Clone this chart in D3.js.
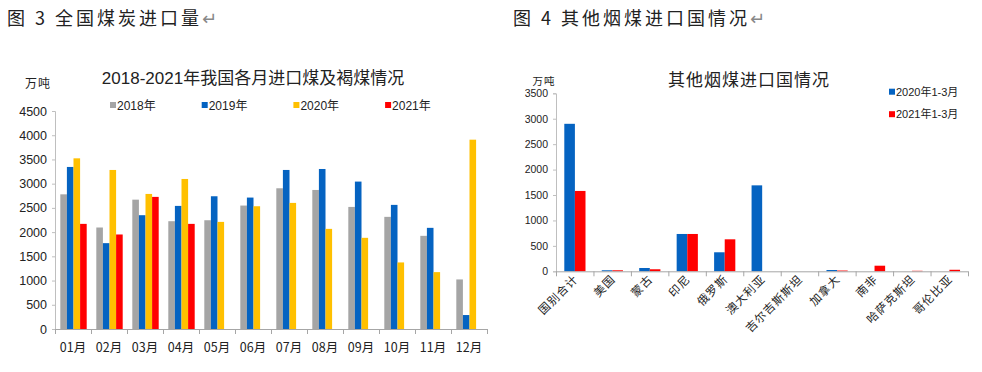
<!DOCTYPE html>
<html>
<head>
<meta charset="utf-8">
<script src="https://cdn.jsdelivr.net/npm/d3@7/dist/d3.min.js"></script>
<style>
  body { margin: 0; background: #fff; }
  svg { display: block; }
  text { font-family: "Liberation Sans", "Noto Sans CJK SC", sans-serif; fill: #222; }
  .cjk { font-family: "Noto Sans CJK SC", sans-serif; }
</style>
</head>
<body>
<div id="chart"></div>
<script>
// ---- data: left chart (monthly coal + lignite imports, 万吨)
var months = ['01月', '02月', '03月', '04月', '05月', '06月', '07月', '08月', '09月', '10月', '11月', '12月'];
var years = ['2018年', '2019年', '2020年', '2021年'];
var imp2018 = [2780, 2095, 2670, 2225, 2245, 2548, 2905, 2870, 2520, 2315, 1923, 1023];
var imp2019 = [3345, 1772, 2349, 2541, 2740, 2713, 3283, 3303, 3043, 2562, 2088, 288];
var imp2020 = [3523, 3283, 2788, 3097, 2211, 2534, 2603, 2067, 1882, 1374, 1174, 3908];
var imp2021 = [2170, 1951, 2727, 2170, null, null, null, null, null, null, null, null];
var leftTicks = [0, 500, 1000, 1500, 2000, 2500, 3000, 3500, 4000, 4500];

// ---- data: right chart (other bituminous coal by origin, 万吨)
var countries = ['国别合计', '美国', '蒙古', '印尼', '俄罗斯', '澳大利亚', '吉尔吉斯斯坦', '加拿大', '南非', '哈萨克斯坦', '哥伦比亚'];
var periods = ['2020年1-3月', '2021年1-3月'];
var q2020 = [2900, 20, 65, 734, 374, 1690, 0, 25, 0, 0, 0];
var q2021 = [1580, 20, 40, 734, 629, 0, 0, 15, 110, 10, 30];
var rightTicks = [0, 500, 1000, 1500, 2000, 2500, 3000, 3500];

var colors = {
  '2018年': '#A5A5A5', '2019年': '#0563C1', '2020年': '#FFC000', '2021年': '#FF0000',
  '2020年1-3月': '#0563C1', '2021年1-3月': '#FF0000'
};

var svg = d3.select('#chart').append('svg')
  .attr('width', 982).attr('height', 372);

// figure captions
svg.append('text').attr('class', 'cjk')
  .attr('x', 7).attr('y', 25)
  .style('font-size', '18px').style('letter-spacing', '3px')
  .text('图 3 全国煤炭进口量')
  .append('tspan').style('fill', '#888').style('font-family', 'DejaVu Sans').style('letter-spacing', '0').text('↵');

svg.append('text').attr('class', 'cjk')
  .attr('x', 513).attr('y', 25)
  .style('font-size', '18px').style('letter-spacing', '3px')
  .text('图 4 其他烟煤进口国情况')
  .append('tspan').style('fill', '#888').style('font-family', 'DejaVu Sans').style('letter-spacing', '0').text('↵');

function drawChart(opt) {
  var g = svg.append('g');

  var x = d3.scaleBand().domain(opt.cats).range([opt.x0, opt.x1]).padding(0);
  var xs = d3.scaleBand().domain(opt.keys).range(opt.inner).padding(0);
  var y = d3.scaleLinear().domain([0, opt.max]).range([opt.y0, opt.yTop]);

  // bars
  var rows = opt.cats.map(function(c, i) {
    return opt.keys.map(function(k, j) { return { cat: c, key: k, v: opt.series[j][i] }; });
  });

  g.selectAll('g.grp')
    .data(rows).enter()
    .append('g')
      .attr('class', 'grp')
      .attr('transform', function(d, i) { return 'translate(' + x(opt.cats[i]) + ',0)'; })
    .selectAll('rect')
    .data(function(d) { return d.filter(function(e) { return e.v != null; }); })
    .enter().append('rect')
      .attr('x', function(d) { return xs(d.key); })
      .attr('width', xs.bandwidth())
      .attr('y', function(d) { return y(d.v); })
      .attr('height', function(d) { return y(0) - y(d.v); })
      .attr('fill', function(d) { return colors[d.key]; });

  // y axis
  var ya = g.append('g')
    .attr('transform', 'translate(' + opt.x0 + ',0)')
    .call(d3.axisLeft(y).tickValues(opt.ticks).tickSize(3).tickPadding(5).tickFormat(d3.format('d')));
  ya.select('.domain').attr('stroke', '#bfbfbf');
  ya.selectAll('.tick line').attr('stroke', '#bfbfbf');
  ya.selectAll('.tick text')
    .style('font-family', '"Liberation Sans", sans-serif')
    .style('font-size', opt.yFont).attr('fill', '#222');

  // x axis: line with ticks at band edges
  g.append('line')
    .attr('x1', opt.x0).attr('x2', opt.x1)
    .attr('y1', opt.y0 + 0.5).attr('y2', opt.y0 + 0.5)
    .attr('stroke', '#a6a6a6');
  var edges = opt.cats.map(function(c) { return x(c); }).concat([opt.x1]);
  g.selectAll('line.xt').data(edges).enter().append('line')
    .attr('class', 'xt')
    .attr('x1', function(d) { return d + 0.5; }).attr('x2', function(d) { return d + 0.5; })
    .attr('y1', opt.y0).attr('y2', opt.y0 + 5)
    .attr('stroke', '#a6a6a6');

  return { g: g, x: x, y: y };
}

// ---- left chart
var left = drawChart({
  cats: months, keys: years,
  series: [imp2018, imp2019, imp2020, imp2021],
  x0: 55, x1: 487, y0: 329, yTop: 111, max: 4500,
  inner: [5.3, 31.7], ticks: leftTicks, yFont: '12.5px'
});

left.g.selectAll('text.xl').data(months).enter().append('text')
  .attr('class', 'xl cjk')
  .attr('x', function(d) { return left.x(d) + left.x.bandwidth() / 2; })
  .attr('y', 352)
  .attr('text-anchor', 'middle')
  .style('font-size', '12.5px')
  .text(function(d) { return d; });

left.g.append('text')
  .attr('x', 253).attr('y', 84)
  .attr('text-anchor', 'middle')
  .style('font-size', '17px')
  .text('2018-2021年我国各月进口煤及褐煤情况');

left.g.append('text').attr('class', 'cjk')
  .attr('x', 38).attr('y', 88)
  .attr('text-anchor', 'middle')
  .style('font-size', '12px').style('letter-spacing', '1px')
  .text('万吨');

var lg = left.g.selectAll('g.lg').data(years).enter().append('g')
  .attr('class', 'lg')
  .attr('transform', function(d, i) { return 'translate(' + (110 + i * 91.7) + ',105)'; });
lg.append('rect').attr('x', 0).attr('y', -3).attr('width', 6).attr('height', 6)
  .attr('fill', function(d) { return colors[d]; });
lg.append('text').attr('x', 7).attr('y', 4.5)
  .style('font-size', '12px')
  .text(function(d) { return d; });

// ---- right chart
var right = drawChart({
  cats: countries, keys: periods,
  series: [q2020, q2021],
  x0: 556, x1: 968, y0: 271.3, yTop: 93.3, max: 3500,
  inner: [8.3, 29.5], ticks: rightTicks, yFont: '10.5px'
});

right.g.selectAll('text.xl').data(countries).enter().append('text')
  .attr('class', 'xl cjk')
  .attr('text-anchor', 'end')
  .attr('transform', function(d) {
    var cx = right.x(d) + right.x.bandwidth() / 2 + 4;
    return 'translate(' + cx + ',280) rotate(-45)';
  })
  .style('font-size', '11.5px').style('letter-spacing', '1px')
  .text(function(d) { return d; });

right.g.append('text').attr('class', 'cjk')
  .attr('x', 749).attr('y', 86)
  .attr('text-anchor', 'middle')
  .style('font-size', '17px').style('letter-spacing', '1px')
  .text('其他烟煤进口国情况');

right.g.append('text').attr('class', 'cjk')
  .attr('x', 544).attr('y', 85)
  .attr('text-anchor', 'middle')
  .style('font-size', '10.5px').style('letter-spacing', '1px')
  .text('万吨');

var rl = right.g.selectAll('g.rl').data(periods).enter().append('g')
  .attr('class', 'rl')
  .attr('transform', function(d, i) { return 'translate(889,' + (91.7 + i * 22.5) + ')'; });
rl.append('rect').attr('x', 0).attr('y', -3).attr('width', 6).attr('height', 6)
  .attr('fill', function(d) { return colors[d]; });
rl.append('text').attr('x', 7).attr('y', 4)
  .style('font-size', '11px')
  .text(function(d) { return d; });
</script>
</body>
</html>
